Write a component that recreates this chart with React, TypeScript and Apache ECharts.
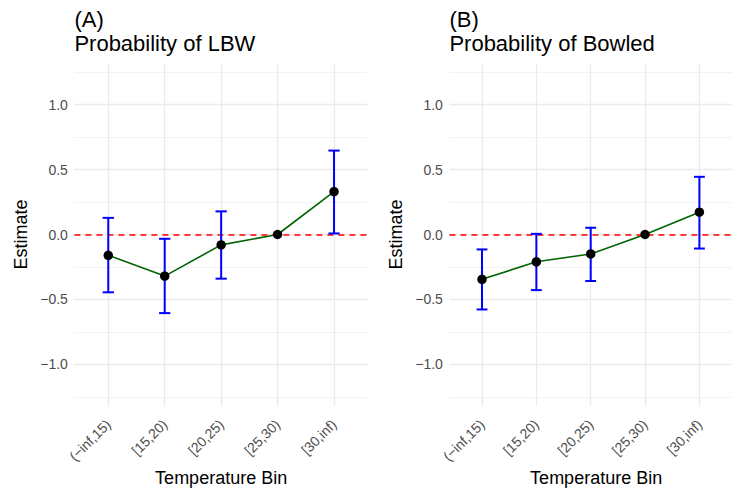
import React, { useEffect, useRef } from "react";
import * as echarts from "echarts";

const categories = ["(\u2212inf,15)", "[15,20)", "[20,25)", "[25,30)", "[30,inf)"];
const lbwEstimate = [-0.16, -0.32, -0.08, 0, 0.33];
const lbwLower = [-0.445, -0.605, -0.34, NaN, 0.008];
const lbwUpper = [0.128, -0.033, 0.178, NaN, 0.646];
const bowledEstimate = [-0.345, -0.21, -0.15, 0, 0.172];
const bowledLower = [-0.577, -0.428, -0.358, NaN, -0.108];
const bowledUpper = [-0.115, 0.005, 0.052, NaN, 0.444];
const yMajorTicks = [-1, -0.5, 0, 0.5, 1];
const yMinorTicks = [-1.25, -0.75, -0.25, 0.25, 0.75, 1.25];
const panelTitles = ["(A)\nProbability of LBW", "(B)\nProbability of Bowled"];
const xTitle = "Temperature Bin";
const yTitle = "Estimate";

const FONT = "'Liberation Sans', Arial, Helvetica, sans-serif";
const GRID_TOP = 63;
const GRID_H = 343;
const GRID_W = 293.5;
const PANEL_LEFT = [74.4, 449.4];
const X_MIN = 0.4;
const X_MAX = 5.6;
const Y_MIN = -1.32;
const Y_MAX = 1.32;

const fmtNum = (v: number) => v.toFixed(1).replace("-", "\u2212");
const xPos = categories.map((_, i) => i + 1);

function buildPanel(p: number, est: number[], lo: number[], hi: number[]) {
  const xAxis = {
    type: "value",
    gridIndex: p,
    min: X_MIN,
    max: X_MAX,
    axisLine: { show: false },
    axisTick: { show: false, customValues: xPos },
    axisLabel: {
      customValues: xPos,
      rotate: 45,
      margin: 16,
      fontSize: 14,
      color: "#4d4d4d",
      fontFamily: FONT,
      formatter: (v: number) => categories[Math.round(v) - 1] ?? "",
    },
    splitLine: { show: true, lineStyle: { color: "#ebebeb", width: 1.3 } },
  };
  const yMajor = {
    type: "value",
    gridIndex: p,
    min: Y_MIN,
    max: Y_MAX,
    axisLine: { show: false },
    axisTick: { show: false, customValues: yMajorTicks },
    axisLabel: {
      customValues: yMajorTicks,
      margin: 6.5,
      fontSize: 14,
      color: "#4d4d4d",
      fontFamily: FONT,
      formatter: (v: number) => fmtNum(v),
    },
    splitLine: { show: true, lineStyle: { color: "#ebebeb", width: 1.3 } },
  };
  const yMinor = {
    type: "value",
    gridIndex: p,
    min: Y_MIN,
    max: Y_MAX,
    axisLine: { show: false },
    axisTick: { show: false, customValues: yMinorTicks },
    axisLabel: { show: false },
    splitLine: { show: true, lineStyle: { color: "#f0f0f0", width: 0.8 } },
  };
  const pts = xPos.map((x, i) => [x, est[i]]);
  const errData = xPos
    .map((x, i) => [x, lo[i], hi[i]])
    .filter((d) => !isNaN(d[1]) && !isNaN(d[2]));
  const yIdx = p * 2;
  const series = [
    {
      type: "line",
      xAxisIndex: p,
      yAxisIndex: yIdx,
      data: [],
      silent: true,
      markLine: {
        symbol: ["none", "none"],
        silent: true,
        label: { show: false },
        lineStyle: { color: "#ff0000", type: [6, 5], width: 1.5 },
        data: [{ yAxis: 0 }],
      },
      z: 3,
    },
    {
      type: "line",
      xAxisIndex: p,
      yAxisIndex: yIdx,
      data: pts,
      showSymbol: false,
      lineStyle: { color: "#006400", width: 1.6 },
      z: 4,
    },
    {
      type: "custom",
      xAxisIndex: p,
      yAxisIndex: yIdx,
      data: errData,
      encode: { x: 0, y: [1, 2] },
      z: 5,
      renderItem: (params: any, api: any) => {
        const x = api.value(0);
        const top = api.coord([x, api.value(2)]);
        const bot = api.coord([x, api.value(1)]);
        const half = api.size([0.1, 0])[0];
        const style = { stroke: "#0000ff", lineWidth: 2 };
        return {
          type: "group",
          children: [
            { type: "line", shape: { x1: top[0], y1: top[1], x2: bot[0], y2: bot[1] }, style },
            { type: "line", shape: { x1: top[0] - half, y1: top[1], x2: top[0] + half, y2: top[1] }, style },
            { type: "line", shape: { x1: bot[0] - half, y1: bot[1], x2: bot[0] + half, y2: bot[1] }, style },
          ],
        };
      },
    },
    {
      type: "scatter",
      xAxisIndex: p,
      yAxisIndex: yIdx,
      data: pts,
      symbolSize: 9.5,
      itemStyle: { color: "#000000", opacity: 1 },
      z: 6,
    },
  ];
  return { xAxis, yAxes: [yMajor, yMinor], series };
}

export default function App() {
  const ref = useRef<HTMLDivElement>(null);
  useEffect(() => {
    if (!ref.current) return;
    const chart = echarts.init(ref.current, undefined, { renderer: "svg" });
    const a = buildPanel(0, lbwEstimate, lbwLower, lbwUpper);
    const b = buildPanel(1, bowledEstimate, bowledLower, bowledUpper);
    const graphics: any[] = [];
    PANEL_LEFT.forEach((left) => {
      graphics.push({
        type: "text",
        x: left + GRID_W / 2,
        y: 478,
        style: {
          text: xTitle,
          fontSize: 18,
          fontFamily: FONT,
          fill: "#000000",
          align: "center",
          verticalAlign: "middle",
        },
      });
      graphics.push({
        type: "text",
        x: left - 53.5,
        y: GRID_TOP + GRID_H / 2,
        rotation: Math.PI / 2,
        style: {
          text: yTitle,
          fontSize: 18,
          fontFamily: FONT,
          fill: "#000000",
          align: "center",
          verticalAlign: "middle",
        },
      });
    });
    chart.setOption({
      animation: false,
      backgroundColor: "#ffffff",
      textStyle: { fontFamily: FONT },
      title: PANEL_LEFT.map((left, i) => ({
        text: panelTitles[i],
        left: left,
        top: 7,
        padding: 0,
        textStyle: {
          fontSize: 22,
          lineHeight: 24,
          fontWeight: "normal",
          color: "#000000",
          fontFamily: FONT,
        },
      })),
      grid: PANEL_LEFT.map((left) => ({ left, top: GRID_TOP, width: GRID_W, height: GRID_H })),
      xAxis: [a.xAxis, b.xAxis],
      yAxis: [...a.yAxes, ...b.yAxes],
      series: [...a.series, ...b.series],
      graphic: graphics,
    });
    return () => chart.dispose();
  }, []);
  return (
    <div
      ref={ref}
      style={{ position: "fixed", left: 0, top: 0, width: 732, height: 491, background: "#fff" }}
    />
  );
}
